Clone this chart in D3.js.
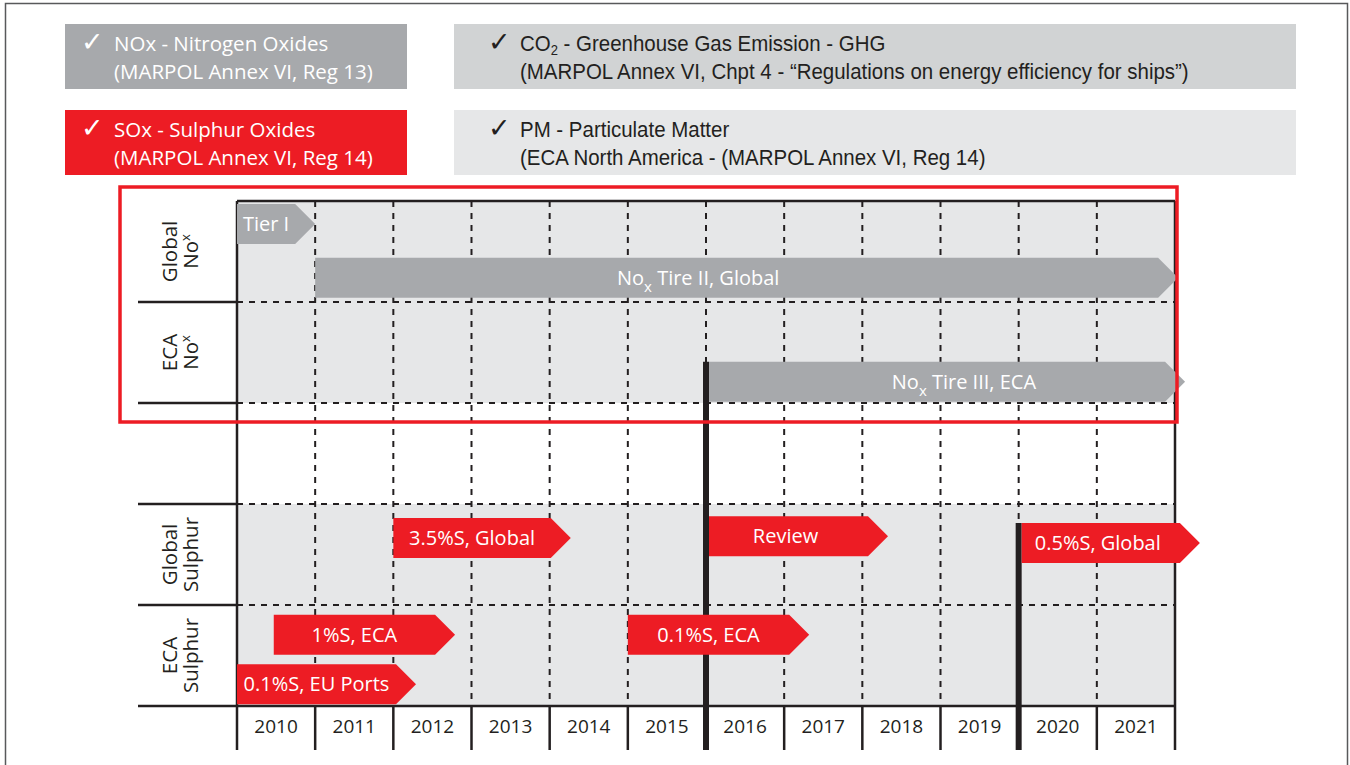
<!DOCTYPE html>
<html>
<head>
<meta charset="utf-8">
<script src="https://cdn.jsdelivr.net/npm/d3@7"></script>
<style>
  body { margin: 0; background: #fff; }
  svg { display: block; }
</style>
</head>
<body>
<div id="chart"></div>
<script>
const W = 1350, H = 765;

// ---- data ----
const years = d3.range(2010, 2022);
const rowKeys = ['gNox', 'eNox', 'gap', 'gSul', 'eSul'];

const rowLabels = [
  {row: 'gNox', top: 'Global', bottom: 'No', sup: 'x'},
  {row: 'eNox', top: 'ECA', bottom: 'No', sup: 'x'},
  {row: 'gSul', top: 'Global', bottom: 'Sulphur', sup: ''},
  {row: 'eSul', top: 'ECA', bottom: 'Sulphur', sup: ''}
];

// start / end in years, lane = 0 (top of row) .. 1 (bottom of row)
const bars = [
  {label: 'Tier I', row: 'gNox', lane: 0.05, start: 2010, end: 2011, kind: 'nox'},
  {label: 'No_x Tire II, Global', row: 'gNox', lane: 0.93, start: 2011, end: 2022.04, kind: 'nox', labelAt: 2015.9},
  {label: 'No_x Tire III, ECA', row: 'eNox', lane: 0.98, start: 2016, end: 2022.09, kind: 'nox', labelAt: 2019.3},
  {label: '3.5%S, Global', row: 'gSul', lane: 0.23, start: 2012, end: 2014.27, kind: 'sox'},
  {label: 'Review', row: 'gSul', lane: 0.2, start: 2016, end: 2018.29, kind: 'sox'},
  {label: '0.5%S, Global', row: 'gSul', lane: 0.31, start: 2020, end: 2022.28, kind: 'sox'},
  {label: '1%S, ECA', row: 'eSul', lane: 0.16, start: 2010.47, end: 2012.79, kind: 'sox'},
  {label: '0.1%S, ECA', row: 'eSul', lane: 0.16, start: 2015, end: 2017.32, kind: 'sox'},
  {label: '0.1%S, EU Ports', row: 'eSul', lane: 0.97, start: 2010, end: 2012.29, kind: 'sox'}
];

// milestone markers hang from these bars down to the axis
const milestones = [
  {year: 2016, bar: 'No_x Tire III, ECA'},
  {year: 2020, bar: '0.5%S, Global'}
];

const legend = [
  {lines: ['NOx - Nitrogen Oxides', '(MARPOL Annex VI, Reg 13)'], kind: 'nox'},
  {lines: ['CO_2 - Greenhouse Gas Emission - GHG', '(MARPOL Annex VI, Chpt 4 - \u201cRegulations on energy efficiency for ships\u201d)'], kind: 'co2'},
  {lines: ['SOx - Sulphur Oxides', '(MARPOL Annex VI, Reg 14)'], kind: 'sox'},
  {lines: ['PM - Particulate Matter', '(ECA North America - (MARPOL Annex VI, Reg 14)'], kind: 'pm'}
];

const colors = {nox: '#a7a9ac', sox: '#ed1c24', co2: '#d1d3d4', pm: '#e6e7e8'};
const ink = '#231f20';
const sans = '"Open Sans", "Noto Sans", sans-serif';
const narrow = '"Liberation Sans Narrow", "Liberation Sans", sans-serif';

// ---- canvas ----
const svg = d3.select('#chart').append('svg').attr('width', W).attr('height', H);

svg.append('rect')
  .attr('x', 5.5).attr('y', 3.5).attr('width', 1342).attr('height', 800)
  .attr('fill', '#fff').attr('stroke', '#58595b').attr('stroke-width', 1.5);

// ---- scales ----
const x = d3.scaleLinear().domain([2010, 2022]).range([237, 1175]);
const xBand = d3.scaleBand().domain(years).range([237, 1175]);
const y = d3.scaleBand().domain(rowKeys).range([201, 706]);
const barH = 40, tip = 20;
const lane = d3.scaleLinear().domain([0, 1]).range([0, y.bandwidth() - barH]);
const axisBottom = 750;
const labelLeft = 138;

// ---- legend boxes ----
const boxW = [342, 842], boxX = [65, 454], boxY = [24, 110], boxH = 65;
const lg = svg.append('g').selectAll('g').data(legend).join('g')
  .attr('transform', (d, i) => `translate(${boxX[i % 2]},${boxY[Math.floor(i / 2)]})`);
lg.append('rect')
  .attr('width', (d, i) => boxW[i % 2]).attr('height', boxH)
  .attr('fill', d => colors[d.kind]);
lg.append('text')
  .attr('x', (d, i) => i % 2 ? 34 : 16).attr('y', 27)
  .attr('font-family', '"DejaVu Sans", sans-serif').attr('font-size', 27).attr('font-weight', 'bold')
  .attr('fill', (d, i) => i % 2 ? ink : '#fff')
  .text('\u2713');
lg.each(function(d, i) {
  const g = d3.select(this);
  const right = i % 2 === 1;
  d.lines.forEach((line, j) => {
    const t = g.append('text')
      .attr('x', right ? 66 : 49).attr('y', 27 + j * 28)
      .attr('font-family', right ? narrow : sans)
      .attr('font-size', right ? 22 : 20.5)
      .attr('fill', right ? ink : '#fff');
    const parts = line.split('_2');
    t.append('tspan').text(parts[0]);
    if (parts.length > 1) {
      t.append('tspan').attr('dy', 4).attr('font-size', 14).text('2');
      t.append('tspan').attr('dy', -4).text(parts[1]);
    }
    if (right) {
      // squeeze to a condensed look
      const len = t.node().getComputedTextLength();
      t.attr('textLength', len * 0.93).attr('lengthAdjust', 'spacingAndGlyphs');
    }
  });
});

// ---- chart background ----
const chart = svg.append('g');
chart.selectAll('rect.bg').data(rowKeys.filter(r => r !== 'gap')).join('rect')
  .attr('class', 'bg')
  .attr('x', x(2010)).attr('y', d => y(d))
  .attr('width', x(2022) - x(2010)).attr('height', y.bandwidth())
  .attr('fill', '#e6e7e8');

// dashed grid
chart.selectAll('line.vgrid').data(years.slice(1)).join('line')
  .attr('class', 'vgrid')
  .attr('x1', d => x(d)).attr('x2', d => x(d))
  .attr('y1', y('gNox')).attr('y2', y.range()[1])
  .attr('stroke', ink).attr('stroke-width', 2).attr('stroke-dasharray', '6,6');
chart.selectAll('line.hgrid').data(rowKeys.slice(1)).join('line')
  .attr('class', 'hgrid')
  .attr('x1', x(2010)).attr('x2', x(2022))
  .attr('y1', d => y(d)).attr('y2', d => y(d))
  .attr('stroke', ink).attr('stroke-width', 2).attr('stroke-dasharray', '6,6');

// solid frame lines
const solid = [
  [x(2010), y('gNox'), x(2022), y('gNox')],
  [labelLeft, y.range()[1], x(2022), y.range()[1]],
  [x(2010), y('gNox'), x(2010), axisBottom],
  [x(2022), y('gNox'), x(2022), axisBottom]
];
rowKeys.slice(1).forEach(r => solid.push([labelLeft, y(r), x(2010), y(r)]));
chart.selectAll('line.solid').data(solid).join('line')
  .attr('class', 'solid')
  .attr('x1', d => d[0]).attr('y1', d => d[1]).attr('x2', d => d[2]).attr('y2', d => d[3])
  .attr('stroke', ink).attr('stroke-width', 2.5);

// ---- year axis ----
const axis = chart.append('g')
  .attr('transform', `translate(0,${y.range()[1]})`)
  .call(d3.axisBottom(xBand).tickSize(0).tickPadding(14));
axis.select('.domain').remove();
axis.selectAll('text')
  .attr('font-family', sans).attr('font-size', 19).attr('fill', ink);
chart.selectAll('line.ytick').data(years.slice(1)).join('line')
  .attr('class', 'ytick')
  .attr('x1', d => x(d)).attr('x2', d => x(d))
  .attr('y1', y.range()[1]).attr('y2', axisBottom)
  .attr('stroke', ink).attr('stroke-width', 2.5);

// ---- row labels ----
const rl = chart.selectAll('g.rowlabel').data(rowLabels).join('g')
  .attr('class', 'rowlabel')
  .attr('transform', d => `translate(0,${y(d.row) + y.bandwidth() / 2}) rotate(-90)`)
  .attr('font-family', sans).attr('font-size', 20.5).attr('fill', ink)
  .attr('text-anchor', 'middle');
rl.append('text').attr('y', 177).text(d => d.top);
const rlb = rl.append('text').attr('y', 198);
rlb.append('tspan').text(d => d.bottom);
rlb.append('tspan').attr('dy', -8).attr('font-size', 13).text(d => d.sup);

// ---- bars ----
const barY = d => y(d.row) + lane(d.lane);
const arrow = d => {
  const x0 = x(d.start), x1 = x(d.end), y0 = barY(d);
  return `M${x0},${y0}H${x1 - tip}L${x1},${y0 + barH / 2}L${x1 - tip},${y0 + barH}H${x0}Z`;
};

// milestone markers
chart.selectAll('line.milestone').data(milestones).join('line')
  .attr('class', 'milestone')
  .attr('x1', d => x(d.year)).attr('x2', d => x(d.year))
  .attr('y1', d => barY(bars.find(b => b.label === d.bar)))
  .attr('y2', axisBottom)
  .attr('stroke', ink).attr('stroke-width', 6);

const bg = chart.selectAll('g.bar').data(bars).join('g').attr('class', 'bar');
bg.append('path')
  .attr('d', arrow)
  .attr('fill', d => colors[d.kind])
  .attr('transform', d => milestones.some(m => m.year === d.start) ? 'translate(3,0)' : null);
const bt = bg.append('text')
  .attr('x', d => d.labelAt ? x(d.labelAt) : (x(d.start) + x(d.end) - tip) / 2)
  .attr('y', d => barY(d) + barH / 2 + 7)
  .attr('text-anchor', 'middle')
  .attr('font-family', sans).attr('font-size', 20).attr('fill', '#fff');
bt.each(function(d) {
  const t = d3.select(this);
  const parts = d.label.split('_x');
  t.append('tspan').text(parts[0]);
  if (parts.length > 1) {
    t.append('tspan').attr('dy', 7).attr('font-size', 15).text('x');
    t.append('tspan').attr('dy', -7).text(parts[1]);
  }
});

// ---- highlight box around the NOx rows ----
svg.append('rect')
  .attr('x', 120).attr('y', y('gNox') - 14)
  .attr('width', x(2022) + 2 - 120).attr('height', y('gap') + 19 - (y('gNox') - 14))
  .attr('fill', 'none').attr('stroke', colors.sox).attr('stroke-width', 3.5);
</script>
</body>
</html>
